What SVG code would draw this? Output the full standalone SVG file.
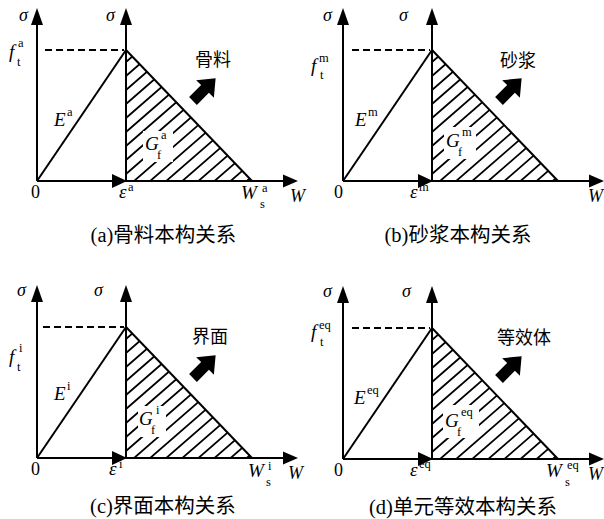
<svg xmlns="http://www.w3.org/2000/svg" xmlns:xlink="http://www.w3.org/1999/xlink" width="604" height="519" viewBox="0 0 604 519">
<style>
.ax{stroke:#000;stroke-width:2;fill:none}
.hat{stroke:#000;stroke-width:1.8;fill:none}
.dash{stroke:#000;stroke-width:2;stroke-dasharray:7 4;fill:none}
.tip{fill:#000}
.it{font-family:"Liberation Serif","Times New Roman","DejaVu Serif",serif;font-style:italic;font-size:19px;fill:#000}
.sg{font-family:"Liberation Serif","Times New Roman","DejaVu Serif",serif;font-style:italic;font-size:18px;fill:#000}
.sm{font-family:"Liberation Serif","Times New Roman","DejaVu Serif",serif;font-size:12.5px;fill:#000}
.num{font-family:"Liberation Serif","Times New Roman","DejaVu Serif",serif;font-size:18px;fill:#000}
.wx{font-family:"Liberation Serif","Times New Roman","DejaVu Serif",serif;font-style:italic;font-size:18px;fill:#000}
.cj{font-family:"Noto Sans CJK SC",sans-serif;font-size:18px;fill:#000}
.cap{font-family:"Liberation Serif","Times New Roman","Noto Sans CJK SC",serif;font-size:20.5px;fill:#000;text-anchor:middle}
</style>
<defs>
<clipPath id="tri"><polygon points="126,50 126,181 252,181"/></clipPath>
<g id="frame">
<line class="ax" x1="37" y1="181" x2="37" y2="22"/>
<polygon class="tip" points="37,8 31,25 43,25"/>
<line class="ax" x1="126" y1="181" x2="126" y2="22"/>
<polygon class="tip" points="126,8 120,25 132,25"/>
<line class="ax" x1="37" y1="181" x2="285" y2="181"/>
<polygon class="tip" points="127,181 112,174 112,188"/>
<polygon class="tip" points="298,181 283,174.5 283,187.5"/>
<line class="ax" x1="37" y1="181" x2="126" y2="50"/>
<line class="ax" x1="126" y1="50" x2="252" y2="181"/>
<g clip-path="url(#tri)">
<path class="hat" d="M126,62 l200,-174 M126,76 l200,-174 M126,90 l200,-174 M126,104 l200,-174 M126,118 l200,-174 M126,132 l200,-174 M126,146 l200,-174 M126,160 l200,-174 M126,174 l200,-174 M126,188 l200,-174 M126,202 l200,-174 M126,216 l200,-174 M126,230 l200,-174 M126,244 l200,-174 M126,258 l200,-174 M126,272 l200,-174 M126,286 l200,-174"/>
</g>
</g>
<path id="fat" d="M0,-5.5 L17,-5.5 L17,-12.5 L32,0 L17,12.5 L17,5.5 L0,5.5 Z"/>
</defs>

<g id="panel-a">
<use xlink:href="#frame"/>
<line class="dash" x1="45" y1="50" x2="124" y2="50"/>
<rect x="143" y="131" width="30" height="31" fill="#fff"/>
<use xlink:href="#fat" transform="translate(193,101) rotate(-45)"/>
<text class="sg" x="19" y="21">σ</text>
<text class="sg" x="106" y="21">σ</text>
<text class="it" x="9" y="58">f</text><text class="sm" x="18" y="47">a</text><text class="sm" x="17" y="66">t</text>
<text class="it" x="54" y="126">E</text><text class="sm" x="67" y="116">a</text>
<text class="it" x="145" y="150">G</text><text class="sm" x="157" y="159">f</text><text class="sm" x="161" y="139">a</text>
<text class="num" x="31" y="198">0</text>
<text class="it" x="119" y="198">ε</text><text class="sm" x="128" y="191">a</text>
<text class="it" x="241" y="199">W</text><text class="sm" x="260" y="208">s</text><text class="sm" x="262" y="192">a</text>
<text class="wx" x="290" y="202">W</text>
<text class="cj" x="195" y="66">骨料</text>
<text class="cap" x="163.5" y="242">(a)骨料本构关系</text>
</g>

<g id="panel-b" transform="translate(306,0)">
<use xlink:href="#frame"/>
<line class="dash" x1="46" y1="50" x2="124" y2="50"/>
<rect x="138" y="127" width="32" height="32" fill="#fff"/>
<use xlink:href="#fat" transform="translate(193,101) rotate(-45)"/>
<text class="sg" x="17" y="21">σ</text>
<text class="sg" x="93" y="21">σ</text>
<text class="it" x="5" y="72">f</text><text class="sm" x="13" y="62">m</text><text class="sm" x="14" y="79">t</text>
<text class="it" x="49" y="126">E</text><text class="sm" x="62" y="116">m</text>
<text class="it" x="140" y="147">G</text><text class="sm" x="152" y="156">f</text><text class="sm" x="156" y="136">m</text>
<text class="num" x="28" y="198">0</text>
<text class="it" x="104" y="198">ε</text><text class="sm" x="113" y="191">m</text>
<text class="wx" x="282" y="202">W</text>
<text class="cj" x="194" y="67">砂浆</text>
<text class="cap" x="152" y="242">(b)砂浆本构关系</text>
</g>

<g id="panel-c" transform="translate(0,277)">
<use xlink:href="#frame"/>
<line class="dash" x1="43" y1="50" x2="124" y2="50"/>
<rect x="138" y="129" width="28" height="31" fill="#fff"/>
<use xlink:href="#fat" transform="translate(193,101) rotate(-45)"/>
<text class="sg" x="17" y="19">σ</text>
<text class="sg" x="94" y="19">σ</text>
<text class="it" x="9" y="86">f</text><text class="sm" x="19" y="75">i</text><text class="sm" x="17" y="94">t</text>
<text class="it" x="54" y="123">E</text><text class="sm" x="67" y="113">i</text>
<text class="it" x="139" y="148">G</text><text class="sm" x="151" y="157">f</text><text class="sm" x="156" y="137">i</text>
<text class="num" x="31" y="198">0</text>
<text class="it" x="109" y="198">ε</text><text class="sm" x="119" y="191">i</text>
<text class="it" x="248" y="200">W</text><text class="sm" x="266" y="209">s</text><text class="sm" x="268" y="193">i</text>
<text class="wx" x="288" y="202">W</text>
<text class="cj" x="192" y="66">界面</text>
<text class="cap" x="163" y="236">(c)界面本构关系</text>
</g>

<g id="panel-d" transform="translate(306,278)">
<use xlink:href="#frame"/>
<line class="dash" x1="46" y1="50" x2="124" y2="50"/>
<rect x="137" y="127" width="36" height="33" fill="#fff"/>
<use xlink:href="#fat" transform="translate(193,101) rotate(-45)"/>
<text class="sg" x="17" y="19">σ</text>
<text class="sg" x="96" y="19">σ</text>
<text class="it" x="5" y="60">f</text><text class="sm" x="13" y="51">eq</text><text class="sm" x="14" y="68">t</text>
<text class="it" x="48" y="126">E</text><text class="sm" x="61" y="116">eq</text>
<text class="it" x="139" y="149">G</text><text class="sm" x="151" y="158">f</text><text class="sm" x="155" y="138">eq</text>
<text class="num" x="28" y="198">0</text>
<text class="it" x="104" y="198">ε</text><text class="sm" x="113" y="190">eq</text>
<text class="it" x="240" y="199">W</text><text class="sm" x="259" y="208">s</text><text class="sm" x="261" y="191">eq</text>
<text class="wx" x="282" y="202">W</text>
<text class="cj" x="191" y="66">等效体</text>
<text class="cap" x="157" y="236">(d)单元等效本构关系</text>
</g>
</svg>
